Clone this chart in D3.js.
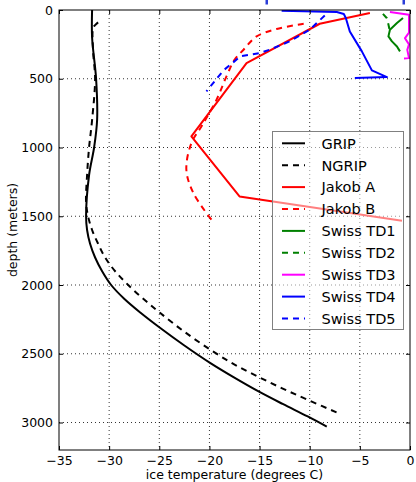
<!DOCTYPE html>
<html><head><meta charset="utf-8">
<script src="https://cdn.jsdelivr.net/npm/d3@7"></script>
<style>body{margin:0;background:#fff;} text{font-family:"DejaVu Sans",sans-serif;}</style>
</head><body>
<svg id="chart" width="416" height="482"></svg>
<script>
// ---------- data ----------
const xTicks = [-35, -30, -25, -20, -15, -10, -5, 0];
const yTicks = [0, 500, 1000, 1500, 2000, 2500, 3000];
const seriesNames = ["GRIP", "NGRIP", "Jakob A", "Jakob B", "Swiss TD1", "Swiss TD2", "Swiss TD3", "Swiss TD4", "Swiss TD5"];
const seriesColors = ["#000000", "#000000", "#ff0000", "#ff0000", "#008000", "#008000", "#ff00ff", "#0000ff", "#0000ff"];
const seriesDashed = [false, true, false, true, false, true, false, false, true];

const gripDepth = [0, 200, 500, 800, 1000, 1200, 1500, 1600, 1700, 1800, 1900, 2000, 2100, 2200, 2313, 2440, 2568, 2670, 2774, 2865, 2956, 3030];
const gripTemp  = [-31.7, -31.7, -31.3, -31.2, -31.5, -32.0, -32.3, -32.2, -31.9, -31.4, -30.7, -29.8, -28.5, -26.9, -24.9, -22.5, -19.9, -17.6, -15.1, -12.7, -10.2, -8.3];
const ngripDepth = [90, 110, 130, 300, 500, 800, 1000, 1200, 1400, 1500, 1600, 1700, 1800, 1900, 2000, 2100, 2204, 2340, 2471, 2570, 2661, 2750, 2835, 2940];
const ngripTemp  = [-31.1, -31.4, -31.6, -31.6, -31.4, -31.7, -32.0, -32.2, -32.3, -32.1, -31.7, -31.1, -30.4, -29.4, -28.1, -26.6, -24.9, -22.5, -19.9, -17.7, -15.3, -12.8, -10.2, -6.9];
const jakobADepth = [22, 100, 386, 919, 1356, 1533];
const jakobATemp  = [-4.0, -9.0, -16.3, -21.8, -17.0, -0.8];
const jakobBDepth = [100, 138, 192, 289, 362, 483, 654, 847, 968, 1162, 1331, 1525];
const jakobBTemp  = [-10.6, -13.3, -15.3, -16.6, -17.5, -18.3, -19.3, -20.8, -21.8, -22.3, -21.6, -19.8];
const td1Depth = [58, 95, 143, 192, 228, 265, 301];
const td1Temp  = [-0.7, -1.3, -2.0, -2.15, -1.8, -1.3, -1.0];
const td2Depth = [28, 60, 105, 140];
const td2Temp  = [-2.7, -2.3, -2.15, -2.05];
const td3Depth = [15, 34, 165, 205, 250, 290, 350, 352];
const td3Temp  = [-2.0, -0.1, -0.1, -0.5, -0.1, -0.27, -0.1, -0.6];
const td4Depth = [5, 15, 29, 58, 156, 301, 439, 488, 495];
const td4Temp  = [-12.8, -7.3, -6.6, -6.4, -6.0, -4.8, -3.8, -2.3, -5.5];
const td5Depth = [40, 143, 228, 289, 313, 337, 439, 592];
const td5Temp  = [-8.5, -10.0, -12.0, -14.0, -15.0, -16.9, -18.6, -20.3];

const seriesDepths = [gripDepth, ngripDepth, jakobADepth, jakobBDepth, td1Depth, td2Depth, td3Depth, td4Depth, td5Depth];
const seriesTemps  = [gripTemp, ngripTemp, jakobATemp, jakobBTemp, td1Temp, td2Temp, td3Temp, td4Temp, td5Temp];
const seriesSmooth = [true, true, false, true, false, false, false, false, false];

// ---------- layout ----------
const L = 59, R = 410, T = 10, B = 450;
const svg = d3.select("#chart");
const x = d3.scaleLinear().domain([-35, 0]).range([L, R]);
const y = d3.scaleLinear().domain([0, 3200]).range([T, B]);

svg.append("defs").append("clipPath").attr("id", "clip")
  .append("rect").attr("x", L).attr("y", T).attr("width", R - L).attr("height", B - T);

// grid
const grid = svg.append("g");
grid.selectAll(".gx").data(xTicks.slice(1, -1)).enter().append("line")
  .attr("x1", d => x(d)).attr("x2", d => x(d)).attr("y1", T).attr("y2", B)
  .attr("stroke", "#000").attr("stroke-width", 0.8).attr("stroke-dasharray", "1,3");
grid.selectAll(".gy").data(yTicks.slice(1)).enter().append("line")
  .attr("y1", d => y(d)).attr("y2", d => y(d)).attr("x1", L).attr("x2", R)
  .attr("stroke", "#000").attr("stroke-width", 0.8).attr("stroke-dasharray", "1,3");

// lines
const plot = svg.append("g").attr("clip-path", "url(#clip)");
seriesNames.forEach((name, i) => {
  const pts = seriesDepths[i].map((dd, k) => [seriesTemps[i][k], dd]);
  const line = d3.line().x(p => x(p[0])).y(p => y(p[1]))
    .curve(seriesSmooth[i] ? d3.curveCatmullRom.alpha(0.5) : d3.curveLinear);
  plot.append("path").attr("d", line(pts)).attr("fill", "none")
    .attr("stroke", seriesColors[i]).attr("stroke-width", 2)
    .attr("stroke-dasharray", seriesDashed[i] ? "6,5" : null)
    .attr("stroke-linejoin", "round");
});

// clipped title descenders at top
svg.append("rect").attr("x", 265.5).attr("y", 0).attr("width", 2.5).attr("height", 4.5).attr("fill", "#2a3dd8");
svg.append("rect").attr("x", 402.5).attr("y", 0).attr("width", 2.5).attr("height", 4.5).attr("fill", "#2a3dd8");

// legend
const lg = svg.append("g");
const lx = 272, ly = 131, lw = 131, lh = 198;
lg.append("rect").attr("x", lx + 0.5).attr("y", ly + 0.5).attr("width", lw).attr("height", lh)
  .attr("fill", "#fff").attr("fill-opacity", 0.5).attr("stroke", "#808080").attr("stroke-width", 1);
seriesNames.forEach((name, i) => {
  const yy = 143.3 + i * 21.9;
  lg.append("line").attr("x1", 282).attr("x2", 305).attr("y1", yy).attr("y2", yy)
    .attr("stroke", seriesColors[i]).attr("stroke-width", 2)
    .attr("stroke-dasharray", seriesDashed[i] ? "6,5" : null);
  lg.append("text").attr("x", 321.5).attr("y", yy + 5.3).attr("font-size", "14.5px").attr("fill", "#000").text(name);
});

// frame
svg.append("rect").attr("x", L).attr("y", T).attr("width", R - L).attr("height", B - T)
  .attr("fill", "none").attr("stroke", "#000").attr("stroke-width", 1);

// axes (ticks inward)
const fmt = d3.format("");
const axB = svg.append("g").attr("transform", `translate(0,${B})`)
  .call(d3.axisBottom(x).tickValues(xTicks).tickSizeInner(-4).tickSizeOuter(0).tickPadding(6).tickFormat(fmt));
const axT = svg.append("g").attr("transform", `translate(0,${T})`)
  .call(d3.axisTop(x).tickValues(xTicks).tickSizeInner(-4).tickSizeOuter(0).tickFormat(""));
const axL = svg.append("g").attr("transform", `translate(${L},0)`)
  .call(d3.axisLeft(y).tickValues(yTicks).tickSizeInner(-4).tickSizeOuter(0).tickPadding(6).tickFormat(fmt));
const axR = svg.append("g").attr("transform", `translate(${R},0)`)
  .call(d3.axisRight(y).tickValues(yTicks).tickSizeInner(-4).tickSizeOuter(0).tickFormat(""));
[axB, axT, axL, axR].forEach(g => {
  g.select(".domain").remove();
  g.selectAll("line").attr("stroke", "#000").attr("stroke-width", 1);
  g.selectAll("text").attr("font-family", "DejaVu Sans").attr("font-size", "12.5px").attr("fill", "#000");
});

// axis labels
svg.append("text").attr("x", (L + R) / 2).attr("y", 478.5).attr("text-anchor", "middle")
  .attr("font-size", "12.5px").text("ice temperature  (degrees C)");
svg.append("text").attr("transform", `translate(17,${(T + B) / 2}) rotate(-90)`).attr("text-anchor", "middle")
  .attr("font-size", "12.5px").text("depth  (meters)");
</script>
</body></html>
